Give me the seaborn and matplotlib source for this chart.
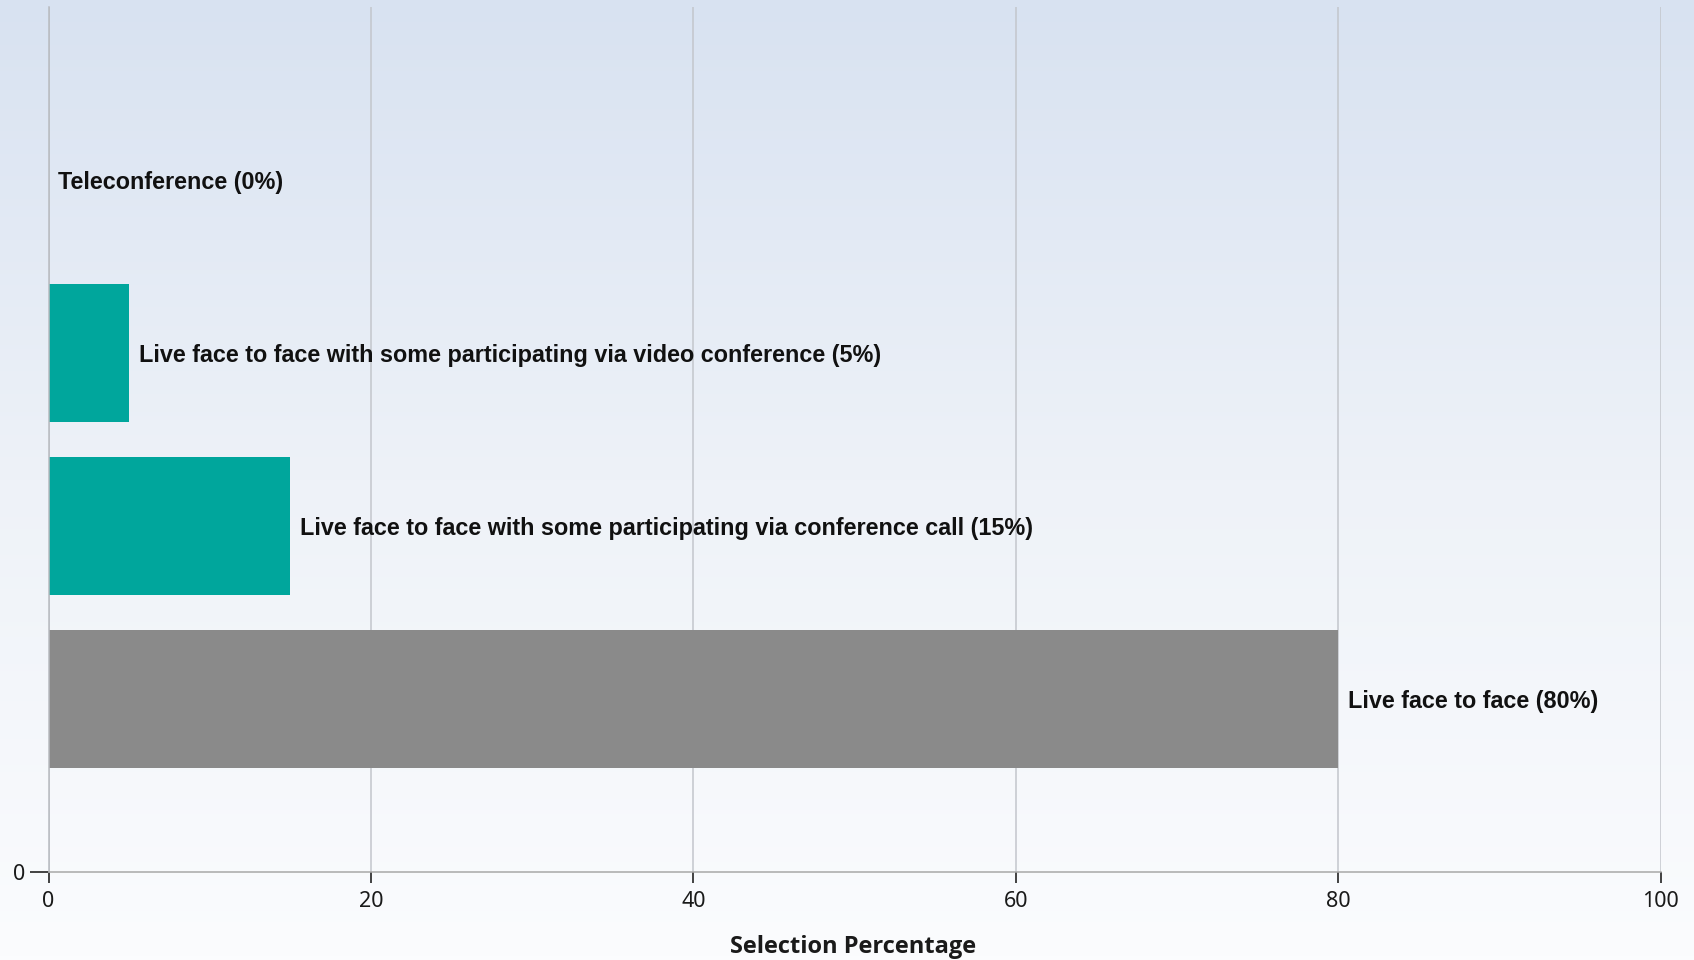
import numpy as np
import pandas as pd
import matplotlib
matplotlib.use("Agg")
import matplotlib.pyplot as plt
from matplotlib.colors import LinearSegmentedColormap
import seaborn as sns

# Survey responses: meeting format preference
categories = [
    "Teleconference",
    "Live face to face with some participating via video conference",
    "Live face to face with some participating via conference call",
    "Live face to face",
]
percentages = [0, 5, 15, 80]
row_positions = [4, 3, 2, 1]
bar_colors = ["#00A69C", "#00A69C", "#00A69C", "#8A8A8A"]
x_ticks = [0, 20, 40, 60, 80, 100]
x_title = "Selection Percentage"

sns.set_theme(style="white")
plt.rcParams["font.family"] = ["Liberation Sans", "DejaVu Sans"]

fig = plt.figure(figsize=(16.94, 9.6), dpi=100)

# soft vertical gradient behind everything
bg = fig.add_axes([0, 0, 1, 1], zorder=-10)
grad = np.linspace(0, 1, 256).reshape(-1, 1)
cmap = LinearSegmentedColormap.from_list("bg", ["#D8E2F1", "#EEF2F8", "#FBFCFE"])
bg.imshow(grad, aspect="auto", cmap=cmap, extent=[0, 1, 0, 1])
bg.set_axis_off()

left, right = 48.6 / 1694, 1660.6 / 1694
bottom, top = (960 - 872) / 960, (960 - 7) / 960
ax = fig.add_axes([left, bottom, right - left, top - bottom])
ax.set_facecolor("none")

df = pd.DataFrame({"category": categories, "pct": percentages, "row": row_positions})
sns.barplot(
    data=df, x="pct", y="row", hue="category",
    palette=dict(zip(categories, bar_colors)),
    orient="h", native_scale=True, width=0.8, dodge=False,
    saturation=1, linewidth=0, legend=False, ax=ax,
)

ax.set_xlim(0, 100)
ax.set_ylim(0, 5)
ax.set_xticks(x_ticks)
ax.set_xticklabels([str(t) for t in x_ticks])
ax.set_yticks([0])
ax.set_yticklabels(["0"])
ax.set_xlabel("")
ax.set_ylabel("")

ax.grid(axis="x", color="#C3C6CC", linewidth=1.1)
ax.grid(axis="y", visible=False)
ax.set_axisbelow(True)
for side in ("top", "right"):
    ax.spines[side].set_visible(False)
ax.spines["left"].set_color("#B8BBC0")
ax.spines["left"].set_linewidth(1.1)
ax.spines["bottom"].set_color("#A8A8A8")
ax.spines["bottom"].set_linewidth(1.1)

ax.tick_params(axis="x", bottom=True, direction="out", length=8, width=1.3,
               color="#333333", pad=6, labelsize=15.5, labelcolor="#1A1A1A")
ax.tick_params(axis="y", left=True, direction="out", length=13.5, width=1.3,
               color="#333333", pad=3, labelsize=15.5, labelcolor="#1A1A1A")
for lbl in ax.get_xticklabels() + ax.get_yticklabels():
    lbl.set_family(["Noto Sans", "DejaVu Sans"])

# value labels at the end of each bar
for cat, pct, row in zip(categories, percentages, row_positions):
    ax.annotate(f"{cat} ({pct}%)", xy=(pct, row), xytext=(7, -2),
                textcoords="offset points", ha="left", va="center",
                fontsize=16.8, fontweight="bold", color="#111111")

fig.text(853 / 1694, 1 - 947 / 960, x_title, ha="center", va="center",
         fontsize=17, fontweight="bold", color="#1A1A1A",
         family=["Open Sans", "DejaVu Sans"])

fig.savefig("out.png", dpi=100)
